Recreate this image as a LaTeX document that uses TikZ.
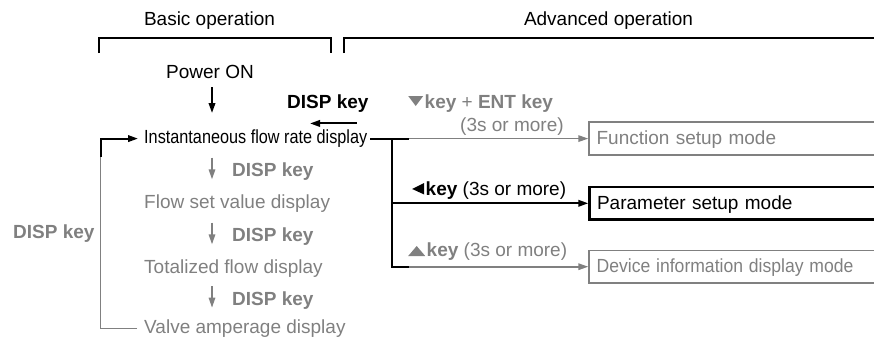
\documentclass[tikz,border=0pt]{standalone}
\usepackage{fontspec}
\setmainfont{Liberation Sans}
\usepackage{graphicx}
\usetikzlibrary{arrows.meta, calc}
\definecolor{mgrey}{RGB}{128,128,128}

% key symbols
\newcommand{\tridown}{\tikz[baseline=0pt]\fill (0pt,12pt) -- (15pt,12pt) -- (7.5pt,2pt) -- cycle;\kern1.5pt}
\newcommand{\triup}{\tikz[baseline=0pt]\fill (0pt,0pt) -- (17pt,0pt) -- (8.5pt,10pt) -- cycle;\kern1.5pt}
\newcommand{\trileft}{\tikz[baseline=0pt]\fill (0pt,6pt) -- (12pt,12pt) -- (12pt,0.5pt) -- cycle;\kern1.5pt}

\begin{document}
\begin{tikzpicture}[
        x=1pt, y=1pt,
        font=\fontsize{19}{22}\selectfont,
        >={Triangle[length=10pt, width=6.5pt]},
        txt/.style={inner sep=0pt, anchor=base west},
        gtxt/.style={txt, text=mgrey},
        bline/.style={line width=2pt, black},
        gline/.style={line width=1.6pt, mgrey},
        bracket/.style={line width=2pt},
        mode_box/.style={draw, anchor=west, inner xsep=7.5pt, text width=380pt, align=left, minimum height=32.6pt, text height=13.6pt, text depth=2pt}
    ]

    \useasboundingbox (0,0) rectangle (874,-343);
    \clip (0,0) rectangle (874,-343);

    % ========================================================
    % 1. HEADINGS
    % ========================================================
    \node[txt, anchor=base] (basic) at (209.5,-25) {Basic operation};
    \node[txt, anchor=base] (adv) at (608.5,-25) {Advanced operation};

    \draw[bracket] (99.3,-53) -- (99.3,-38) -- (330.7,-38) -- (330.7,-53);
    \draw[bracket] (343.7,-53) -- (343.7,-38) -- (880,-38);

    % ========================================================
    % 2. BASIC OPERATION
    % ========================================================
    \coordinate (axis) at (212,0);

    \node[txt, anchor=base] (power) at (210,-78) {Power ON};
    \node[txt] (inst) at (144,-143.5) {\scalebox{0.855}[1]{Instantaneous flow rate display}};
    \node[txt] (dispA) at (287,-108) {\textbf{DISP key}};

    \node[gtxt] (flow) at (144,-208) {Flow set value display};
    \node[gtxt] (total) at (144,-273.3) {Totalized flow display};
    \node[gtxt] (valve) at (144,-333.3) {Valve amperage display};

    \node[gtxt] (disp1) at (232,-176.7) {\textbf{DISP key}};
    \node[gtxt] (disp2) at (232,-241.7) {\textbf{DISP key}};
    \node[gtxt] (disp3) at (232,-305) {\textbf{DISP key}};
    \node[gtxt] (dispL) at (13,-238) {\textbf{DISP key}};

    % Panah
    \draw[bline, ->] ([yshift=-9pt]power.south -| axis) -- ([yshift=16.5pt]inst.north -| axis);
    \draw[bline, ->] ([shift={(-12pt,-11.3pt)}]dispA.south east) -- ([shift={(23pt,-11.3pt)}]dispA.south west);

    \draw[gline, ->] ([yshift=5pt]disp1.north -| axis) -- ([yshift=1.5pt]disp1.south -| axis);
    \draw[gline, ->] ([yshift=5pt]disp2.north -| axis) -- ([yshift=1.5pt]disp2.south -| axis);
    \draw[gline, ->] ([yshift=5pt]disp3.north -| axis) -- ([yshift=1.5pt]disp3.south -| axis);

    % Loop kembali
    \coordinate (loop_b) at (100.5,-156.7);
    \draw[gline] ([xshift=-7pt]valve.west) -| (loop_b);
    \draw[bline, ->] (loop_b) |- ([xshift=-6pt]inst.west);

    % ========================================================
    % 3. ADVANCED OPERATION
    % ========================================================
    \coordinate (modes_x) at (588.3,0);
    \coordinate (fork) at (392.3,0);

    \node[mode_box, draw=mgrey, text=mgrey, line width=1.6pt] (fbox) at (inst.east -| modes_x) {Function setup mode};
    \node[mode_box, line width=2.5pt] (pbox) at (588.3,-203.3) {Parameter setup mode};
    \node[mode_box, draw=mgrey, text=mgrey, line width=1.6pt] (dbox) at (588.3,-266.7) {\scalebox{0.925}[1]{Device information display mode}};

    \node[gtxt] (fkey) at (408,-108) {\tridown\textbf{key} + \textbf{ENT key}};
    \node[gtxt] (fkey_t) at (460,-131.5) {(3s or more)};
    \node[txt] (pkey) at (412,-195) {\trileft\textbf{key} (3s or more)};
    \node[gtxt] (dkey) at (408,-256) {\triup\textbf{key} (3s or more)};

    % Cabang
    \draw[bline] ([xshift=3pt]inst.east) -- ([xshift=42pt]inst.east) coordinate (f_end);
    \draw[gline, ->] (f_end) -- (fbox.west);
    \draw[bline] (inst.east -| fork) -- (fork |- dbox.west) -- ++(16.7,0) coordinate (d_end);
    \draw[gline, ->] (d_end) -- (dbox.west);
    \draw[bline, ->] (fork |- pbox.west) -- (pbox.west);

\end{tikzpicture}
\end{document}
